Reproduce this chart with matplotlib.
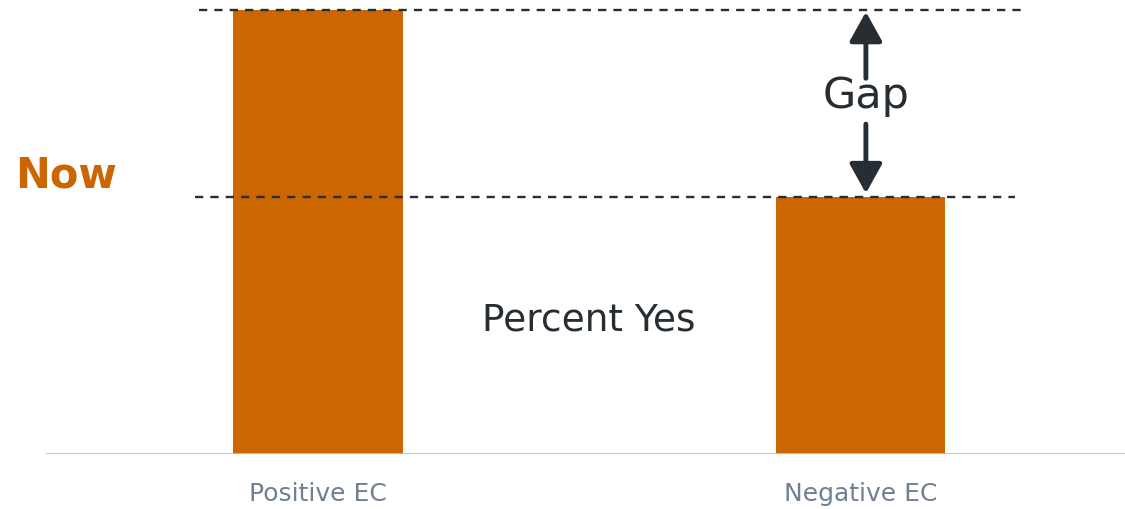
import numpy as np
import matplotlib.pyplot as plt

categories = ["Positive EC", "Negative EC"]
percent_yes = [80, 46.3]

bar_color = "#CC6600"
dark = "#262D33"

plt.rcParams['font.family'] = ['DejaVu Sans']

fig = plt.figure(figsize=(11.25, 5.09), dpi=100)
ax = fig.add_axes([0, 55 / 509, 1, 454 / 509])

x = np.arange(len(categories))
ax.bar(x, percent_yes, width=0.313, color=bar_color, zorder=2)

ax.set_xlim(-0.586, 1.4876)
ax.set_ylim(0, percent_yes[0] * 454 / 444)

# baseline
ax.axhline(0, xmin=47 / 1125, xmax=1, color="#BDBDBD", lw=2, zorder=3)

# dashed reference lines at the two bar tops
ax.hlines(percent_yes[0], x[0] - 0.22, x[1] + 0.295, colors=dark, lw=1.7,
          linestyles=(0, (3.5, 3)), zorder=3)
ax.hlines(percent_yes[1], x[0] - 0.227, x[1] + 0.285, colors=dark, lw=1.7,
          linestyles=(0, (3.5, 3)), zorder=3)

# gap arrows + label
gx = x[1] + 0.01
mid = (percent_yes[0] + percent_yes[1]) / 2
span = percent_yes[0] - percent_yes[1]
ax.text(gx, mid + 0.04 * span, "Gap", fontsize=31, color=dark,
        ha="center", va="center")
arrow = dict(arrowstyle="-|>,head_length=0.9,head_width=0.5", lw=3.5,
             color=dark, mutation_scale=20, shrinkA=0, shrinkB=0,
             capstyle="round")
ax.annotate("", xy=(gx, percent_yes[0] - 0.01 * span),
            xytext=(gx, mid + 0.135 * span), arrowprops=arrow)
ax.annotate("", xy=(gx, percent_yes[1] + 0.02 * span),
            xytext=(gx, mid - 0.11 * span), arrowprops=arrow)

ax.text(0.5, percent_yes[1] * 0.52, "Percent Yes", fontsize=27, color=dark,
        ha="center", va="center")

fig.text(15 / 1125, 1 - 175 / 509, "Now", fontsize=30, fontweight="bold",
         color=bar_color, ha="left", va="center")

ax.set_xticks(x, categories)
ax.tick_params(axis="x", length=0, pad=20, labelsize=18, labelcolor="#708090")
ax.set_yticks([])
for s in ax.spines.values():
    s.set_visible(False)

fig.savefig("out.png", dpi=100)
